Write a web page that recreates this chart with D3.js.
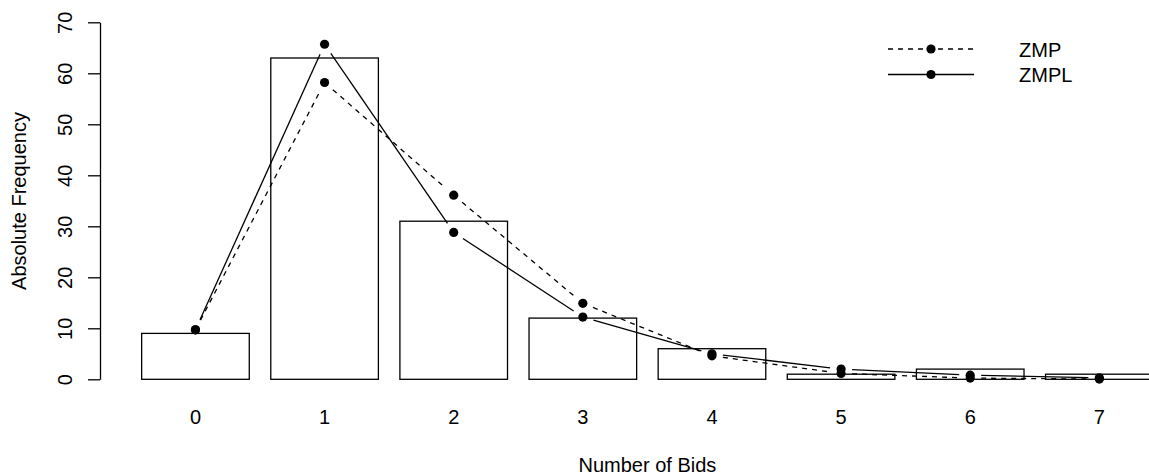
<!DOCTYPE html>
<html>
<head>
<meta charset="utf-8">
<script src="https://cdn.jsdelivr.net/npm/d3@7"></script>
<style>
  html, body { margin: 0; padding: 0; background: #fff; }
  svg { display: block; }
  text { font-family: "Liberation Sans", Arial, Helvetica, sans-serif; fill: #000; }
</style>
</head>
<body>
<svg id="chart" width="1149" height="475"></svg>
<script>
// ---- data ----
const categories = ["0", "1", "2", "3", "4", "5", "6", "7"];
const observed   = [9, 63, 31, 12, 6, 1, 2, 1];
const zmpValues  = [9.7, 58.2, 36.1, 14.9, 4.6, 1.15, 0.24, 0.04];
const zmplValues = [9.7, 65.7, 28.8, 12.2, 5.0, 2.0, 0.8, 0.3];
const yTicks     = [0, 10, 20, 30, 40, 50, 60, 70];
const seriesNames = ["ZMP", "ZMPL"];
const xTitle = "Number of Bids";
const yTitle = "Absolute Frequency";

// ---- layout ----
const svg = d3.select("#chart");
const fontSize = 20;
const plotLeft = 101.2, plotRight = 1193.6;

const x = d3.scaleBand()
  .domain(categories)
  .range([plotLeft, plotRight])
  .paddingInner(1 / 6)
  .paddingOuter(0.3133);

const y = d3.scaleLinear().domain([0, 70]).range([379.3, 22.3]);

// bars
svg.append("g").selectAll("rect")
  .data(categories)
  .join("rect")
  .attr("x", d => x(d))
  .attr("y", (d, i) => y(observed[i]))
  .attr("width", x.bandwidth())
  .attr("height", (d, i) => y(0) - y(observed[i]))
  .attr("fill", "#fff")
  .attr("stroke", "#000")
  .attr("stroke-width", 1.3);

// y axis
const yAxis = svg.append("g")
  .attr("transform", `translate(${plotLeft - 1.2},0)`)
  .call(d3.axisLeft(y).tickValues(yTicks).tickSize(12).tickSizeOuter(0).tickFormat(d3.format("d")));
yAxis.select(".domain").attr("stroke", "#000").attr("stroke-width", 1.3);
yAxis.selectAll(".tick line").attr("stroke", "#000").attr("stroke-width", 1.3);
yAxis.selectAll(".tick text")
  .attr("x", null).attr("y", null).attr("dy", null)
  .attr("transform", "translate(-28,0) rotate(-90)")
  .attr("text-anchor", "middle")
  .style("font-size", fontSize + "px")
  .style("font-family", "'Liberation Sans', Arial, sans-serif")
  .attr("fill", "#000");

// x tick labels
svg.append("g").selectAll("text")
  .data(categories)
  .join("text")
  .attr("x", d => x(d) + x.bandwidth() / 2)
  .attr("y", 424)
  .attr("text-anchor", "middle")
  .style("font-size", fontSize + "px")
  .text(d => d);

// axis titles
svg.append("text")
  .attr("x", (plotLeft + plotRight) / 2)
  .attr("y", 472)
  .attr("text-anchor", "middle")
  .style("font-size", fontSize + "px")
  .text(xTitle);

svg.append("text")
  .attr("transform", `translate(26,${(y(0) + y(70)) / 2 + 0.2}) rotate(-90)`)
  .attr("text-anchor", "middle")
  .style("font-size", fontSize + "px")
  .text(yTitle);

// series lines (R type = "b": segments with gaps around points)
const gap = 11;
const dotR = 4.6;
function drawSeries(values, dash) {
  const pts = values.map((v, i) => [x(categories[i]) + x.bandwidth() / 2, y(v)]);
  const segs = [];
  for (let i = 0; i < pts.length - 1; i++) {
    const [x0, y0] = pts[i], [x1, y1] = pts[i + 1];
    const dx = x1 - x0, dy = y1 - y0;
    const len = Math.hypot(dx, dy);
    if (len <= 2 * gap) continue;
    const ux = dx / len, uy = dy / len;
    segs.push([[x0 + ux * gap, y0 + uy * gap], [x1 - ux * gap, y1 - uy * gap]]);
  }
  const g = svg.append("g");
  g.selectAll("path")
    .data(segs)
    .join("path")
    .attr("d", d => d3.line()(d))
    .attr("fill", "none")
    .attr("stroke", "#000")
    .attr("stroke-width", 1.3)
    .attr("stroke-dasharray", dash);
  g.selectAll("circle")
    .data(pts)
    .join("circle")
    .attr("cx", d => d[0])
    .attr("cy", d => d[1])
    .attr("r", dotR)
    .attr("fill", "#000");
}
drawSeries(zmpValues, "5,5");
drawSeries(zmplValues, null);

// legend
const legend = svg.append("g");
const legendRows = [
  { name: seriesNames[0], dash: "5,5", y: 49 },
  { name: seriesNames[1], dash: null, y: 74.5 }
];
legendRows.forEach(r => {
  legend.append("line")
    .attr("x1", 888).attr("x2", 974)
    .attr("y1", r.y).attr("y2", r.y)
    .attr("stroke", "#000").attr("stroke-width", 1.3)
    .attr("stroke-dasharray", r.dash);
  legend.append("circle")
    .attr("cx", 931).attr("cy", r.y).attr("r", dotR).attr("fill", "#000");
  legend.append("text")
    .attr("x", 1019).attr("y", r.y + 7.5)
    .style("font-size", fontSize + "px")
    .text(r.name);
});
</script>
</body>
</html>
